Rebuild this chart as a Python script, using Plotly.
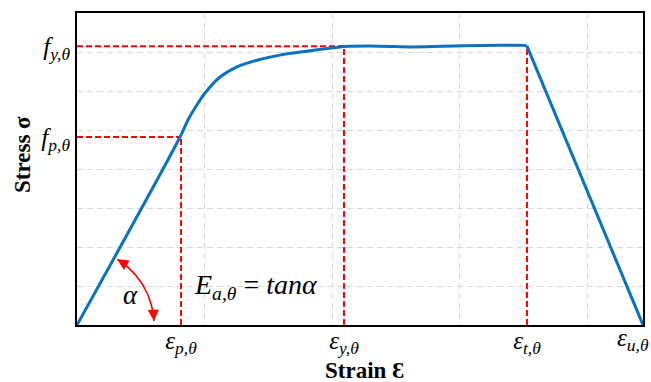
import math
import plotly.graph_objects as go

# ---- data ----
strain = [0, 0.808, 0.871, 0.940, 1.004, 1.122, 1.255, 1.412, 1.592, 1.827,
          2.063, 2.094, 2.376, 2.635, 3.027, 3.318, 3.506, 3.529]
stress = [0, 4.82, 5.26, 5.64, 5.95, 6.36, 6.62, 6.79, 6.92, 7.03,
          7.13, 7.14, 7.15, 7.13, 7.16, 7.17, 7.17, 7.15]
unload_strain = [3.529, 4.439]
unload_stress = [7.15, 0]

eps_vals = [0.816, 2.094, 3.529, 4.439]
eps_text = ["<i>ε</i><sub><i>p,θ</i></sub>", "<i>ε</i><sub><i>y,θ</i></sub>",
            "<i>ε</i><sub><i>t,θ</i></sub>", "<i>ε</i><sub><i>u,θ</i></sub>"]
f_vals = [4.82, 7.15]
f_text = ["<i>f</i><sub><i>p,θ</i></sub>", "<i>f</i><sub><i>y,θ</i></sub>"]

x_max = 4.439
y_max = 8

W, H = 651, 382
ML, MR, MT, MB = 77, 8, 13, 57
PW, PH = W - ML - MR, H - MT - MB
px_x = PW / x_max
px_y = PH / y_max

BLUE = "#0A72C2"
RED = "#FF0000"
GRID = "#D9D9D9"
SERIF = "Liberation Serif, Times New Roman, DejaVu Serif, serif"
TICK_SIZE = 25

fig = go.Figure()

# red dashed guide lines
eps_p, eps_y, eps_t, eps_u = eps_vals
f_p, f_y = f_vals
guides = [
    ([0, eps_p], [f_p, f_p]),
    ([eps_p, eps_p], [0, f_p]),
    ([0, eps_y], [f_y, f_y]),
    ([eps_y, eps_y], [0, f_y]),
    ([eps_t, eps_t], [0, f_y]),
]
for gx, gy in guides:
    fig.add_trace(go.Scatter(x=gx, y=gy, mode="lines",
                             line=dict(color=RED, width=2, dash="6px,3px"),
                             hoverinfo="skip"))

# stress-strain curve
fig.add_trace(go.Scatter(x=strain, y=stress, mode="lines",
                         line=dict(color=BLUE, width=3, shape="spline", smoothing=1.0),
                         cliponaxis=False))
fig.add_trace(go.Scatter(x=unload_strain, y=unload_stress, mode="lines",
                         line=dict(color=BLUE, width=3), cliponaxis=False))

# alpha arc (decoration) centred at the origin, in pixel-consistent geometry
r_px = 77
a1, a2 = math.radians(58.5), math.radians(3.0)
n = 30
arc_x, arc_y = [], []
for i in range(n + 1):
    a = a1 + (a2 - a1) * i / n
    arc_x.append(r_px * math.cos(a) / px_x)
    arc_y.append(r_px * math.sin(a) / px_y)
fig.add_trace(go.Scatter(x=arc_x, y=arc_y, mode="lines",
                         line=dict(color=RED, width=1.6), hoverinfo="skip"))

# arrowheads at both ends of the arc
L = 7
fig.add_annotation(x=arc_x[0], y=arc_y[0], text="", showarrow=True,
                   arrowhead=2, arrowsize=1.4, arrowwidth=1.6, arrowcolor=RED,
                   ax=L * math.sin(a1), ay=L * math.cos(a1))
fig.add_annotation(x=arc_x[-1], y=arc_y[-1], text="", showarrow=True,
                   arrowhead=2, arrowsize=1.4, arrowwidth=1.6, arrowcolor=RED,
                   ax=-L * math.sin(a2), ay=-L * math.cos(a2))

fig.add_annotation(x=(130 - ML) / px_x, y=(H - MB - 295) / px_y, text="<i>α</i>",
                   showarrow=False, font=dict(family=SERIF, size=27, color="black"))
fig.add_annotation(x=(256 - ML) / px_x, y=(H - MB - 286) / px_y,
                   text="<i>E</i><sub><i>a,θ</i></sub> = <i>tanα</i>",
                   showarrow=False, font=dict(family=SERIF, size=28, color="black"))

# the last strain label sits against the right edge of the figure
fig.add_annotation(x=eps_u, y=0, xref="x", yref="y", text=eps_text[3], showarrow=False,
                   xanchor="right", yanchor="top", xshift=8, yshift=3,
                   font=dict(family=SERIF, size=TICK_SIZE, color="black"))

# axis titles, placed like the reference
fig.add_annotation(x=(22 - ML) / PW, y=(H - MB - 155) / PH, xref="paper", yref="paper",
                   xanchor="center", yanchor="middle",
                   text="<b>Stress σ</b>", textangle=-90, showarrow=False,
                   font=dict(family=SERIF, size=23, color="black"))
fig.add_annotation(x=(364 - ML) / PW, y=(H - MB - 370) / PH, xref="paper", yref="paper",
                   xanchor="center", yanchor="middle",
                   text="<b>Strain Ɛ</b>", showarrow=False,
                   font=dict(family=SERIF, size=23, color="black"))

axis_common = dict(showline=True, linecolor="black", linewidth=2, mirror=True,
                   ticks="", showgrid=False, zeroline=False, fixedrange=True,
                   automargin=False)

fig.update_xaxes(range=[0, x_max], tickmode="array", tickvals=eps_vals[:3], ticktext=eps_text[:3],
                 tickfont=dict(family=SERIF, size=TICK_SIZE, color="black"),
                 ticklabelstandoff=-8,
                 minor=dict(tickmode="linear", tick0=0, dtick=1, showgrid=True,
                            gridcolor=GRID, griddash="6px,4px", gridwidth=1.3, ticks=""),
                 **axis_common)
fig.update_yaxes(range=[0, y_max], tickmode="array", tickvals=f_vals, ticktext=f_text,
                 tickfont=dict(family=SERIF, size=TICK_SIZE, color="black"),
                 minor=dict(tickmode="linear", tick0=0, dtick=1, showgrid=True,
                            gridcolor=GRID, griddash="6px,4px", gridwidth=1.3, ticks=""),
                 **axis_common)

fig.update_layout(width=W, height=H, margin=dict(l=ML, r=MR, t=MT, b=MB, autoexpand=False),
                  plot_bgcolor="white", paper_bgcolor="white", showlegend=False)

fig.write_html("out.html")
